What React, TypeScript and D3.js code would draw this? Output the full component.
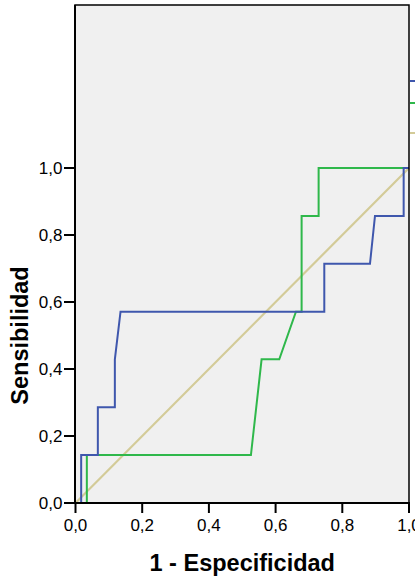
import React from "react";
import * as d3 from "d3";

// ROC curve coordinates: 1 - especificidad (x) and sensibilidad (y)
const blueX = [0, 0.017, 0.017, 0.067, 0.067, 0.118, 0.118, 0.135, 0.746, 0.746, 0.883, 0.898, 0.984, 0.984, 1];
const blueY = [0, 0, 0.143, 0.143, 0.286, 0.286, 0.429, 0.571, 0.571, 0.714, 0.714, 0.857, 0.857, 1, 1];

const greenX = [0, 0.034, 0.034, 0.526, 0.558, 0.611, 0.661, 0.678, 0.678, 0.729, 0.729, 1];
const greenY = [0, 0, 0.143, 0.143, 0.429, 0.429, 0.571, 0.571, 0.857, 0.857, 1, 1];

const refX = [0, 1];
const refY = [0, 1];

const tickValues = [0, 0.2, 0.4, 0.6, 0.8, 1];
const tickLabels = ["0,0", "0,2", "0,4", "0,6", "0,8", "1,0"];

const colors = { blue: "#3f57ad", green: "#2fb84b", ref: "#d3cb98" };

const W = 415;
const H = 579;
const frame = { left: 75, top: 5, right: 409, bottom: 503 };

export default function App() {
  const x = d3.scaleLinear().domain([0, 1]).range([75.5, 409]);
  const y = d3.scaleLinear().domain([0, 1]).range([503, 168]);
  const line = d3
    .line<[number, number]>()
    .x((d) => x(d[0]))
    .y((d) => y(d[1]));

  const zip = (xs: number[], ys: number[]) => xs.map((v, i) => [v, ys[i]] as [number, number]);

  const font = "'Liberation Sans', Arial, sans-serif";

  return (
    <svg
      width={W}
      height={H}
      style={{ position: "absolute", left: 0, top: 0, background: "#fff" }}
      fontFamily={font}
    >
      <rect
        x={frame.left}
        y={frame.top}
        width={frame.right - frame.left}
        height={frame.bottom - frame.top}
        fill="#f0f0f0"
      />
      {/* diagonal reference line */}
      <path d={line(zip(refX, refY)) || ""} fill="none" stroke={colors.ref} strokeWidth={2.2} />
      <path d={line(zip(greenX, greenY)) || ""} fill="none" stroke={colors.green} strokeWidth={2} />
      <path d={line(zip(blueX, blueY)) || ""} fill="none" stroke={colors.blue} strokeWidth={2} />

      {/* frame */}
      <rect
        x={frame.left}
        y={frame.top}
        width={frame.right - frame.left}
        height={frame.bottom - frame.top}
        fill="none"
        stroke="#000"
        strokeWidth={1.5}
      />
      <line x1={frame.left} x2={frame.left} y1={frame.top} y2={frame.bottom + 1} stroke="#000" strokeWidth={2} />
      <line x1={frame.left - 1} x2={frame.right + 1} y1={frame.bottom} y2={frame.bottom} stroke="#000" strokeWidth={2} />

      {/* y axis ticks */}
      {tickValues.map((v, i) => (
        <g key={"y" + i}>
          <line x1={frame.left - 11} x2={frame.left} y1={y(v)} y2={y(v)} stroke="#000" strokeWidth={2} />
          <text x={62.5} y={y(v) + 6} textAnchor="end" fontSize={17} fill="#000">
            {tickLabels[i]}
          </text>
        </g>
      ))}

      {/* x axis ticks */}
      {tickValues.map((v, i) => (
        <g key={"x" + i}>
          <line x1={x(v)} x2={x(v)} y1={frame.bottom} y2={frame.bottom + 10} stroke="#000" strokeWidth={2} />
          <text x={x(v)} y={531} textAnchor="middle" fontSize={17} fill="#000">
            {tickLabels[i]}
          </text>
        </g>
      ))}

      {/* legend line samples */}
      <line x1={410} x2={440} y1={81} y2={81} stroke={colors.blue} strokeWidth={2} />
      <line x1={410} x2={440} y1={103} y2={103} stroke={colors.green} strokeWidth={2} />
      <line x1={410} x2={440} y1={133} y2={133} stroke={colors.ref} strokeWidth={2} />

      {/* axis titles */}
      <text x={(x(0) + x(1)) / 2} y={571} textAnchor="middle" fontSize={23.5} fontWeight="bold" fill="#000">
        1 - Especificidad
      </text>
      <text
        transform={`translate(28.3, ${(y(0) + y(1)) / 2}) rotate(-90)`}
        textAnchor="middle"
        fontSize={23.5}
        fontWeight="bold"
        fill="#000"
      >
        Sensibilidad
      </text>
    </svg>
  );
}
